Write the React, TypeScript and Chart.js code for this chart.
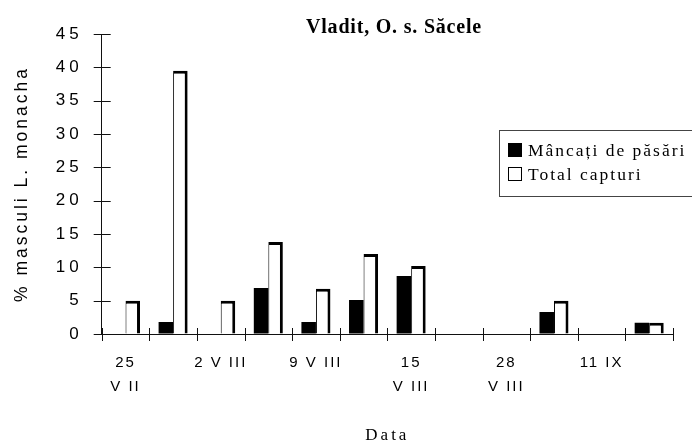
import React, { useEffect, useRef } from 'react';
import { Chart, registerables } from 'chart.js';

Chart.register(...registerables);

// ---- data ----
const categories: (string | string[])[] = [
  ['25', 'V II'], '', '2 V III', '', '9 V III', '', ['15', 'V III'], '', ['28', 'V III'], '', '11 IX', '',
];
const eatenByBirds = [0, 1.8, 0, 6.9, 1.8, 5.1, 8.7, 0, 0, 3.3, 0, 1.7];
const totalCaptures = [5, 39.5, 5, 13.8, 6.8, 12, 10.2, 0, 0, 5, 0, 1.7];
const seriesNames = ['Mâncați de păsări', 'Total capturi'];
const chartTitle = 'Vladit, O. s. Săcele';
const yTitle = '% masculi L. monacha';
const xTitle = 'Data';
const yMin = 0;
const yMax = 45;
const yStep = 5;

const SANS = "'Liberation Sans', Arial, sans-serif";
const SERIF = "'Liberation Serif', 'Times New Roman', serif";

function patchSpacing(scale: any, labelSpacing: string, titleSpacing: string) {
  if (scale.__spacingPatched) return;
  scale.__spacingPatched = true;
  const dl = scale.drawLabels.bind(scale);
  const dt = scale.drawTitle.bind(scale);
  scale.drawLabels = (a: any) => {
    const ctx = scale.ctx;
    ctx.save();
    ctx.letterSpacing = labelSpacing;
    dl(a);
    ctx.restore();
  };
  scale.drawTitle = (a: any) => {
    const ctx = scale.ctx;
    ctx.save();
    ctx.letterSpacing = titleSpacing;
    dt(a);
    ctx.restore();
  };
}

const crossTicks = {
  id: 'crossTicks',
  afterDraw(chart: any) {
    const { ctx, scales, chartArea } = chart;
    const x = scales.x;
    const y = scales.y;
    ctx.save();
    ctx.strokeStyle = '#111';
    ctx.lineWidth = 1;
    ctx.beginPath();
    for (let v = yMin; v <= yMax; v += yStep) {
      const py = Math.round(y.getPixelForValue(v)) + 0.5;
      ctx.moveTo(chartArea.left - 8, py);
      ctx.lineTo(chartArea.left + 9, py);
    }
    const n = categories.length;
    const step = x.getPixelForValue(1) - x.getPixelForValue(0);
    for (let i = 0; i <= n; i++) {
      const px = Math.round(x.getPixelForValue(0) - step / 2 + i * step) + 0.5;
      ctx.moveTo(px, chartArea.bottom - 6);
      ctx.lineTo(px, chartArea.bottom + 7);
    }
    ctx.stroke();
    ctx.restore();
  },
};

const titleLegend = {
  id: 'titleLegend',
  afterDraw(chart: any) {
    const { ctx } = chart;
    ctx.save();
    ctx.letterSpacing = '0.8px';
    ctx.fillStyle = '#000';
    ctx.font = `bold 20px ${SERIF}`;
    ctx.textAlign = 'center';
    ctx.textBaseline = 'middle';
    ctx.fillText(chartTitle, 394, 28);

    ctx.letterSpacing = '2px';
    const bx = 499.5, by = 130.5, bw = 200, bh = 66;
    ctx.fillStyle = '#fff';
    ctx.fillRect(bx, by, bw, bh);
    ctx.strokeStyle = '#444';
    ctx.lineWidth = 1;
    ctx.strokeRect(bx, by, bw, bh);
    const ds = chart.data.datasets;
    ctx.font = `17.5px ${SERIF}`;
    ctx.textAlign = 'left';
    ds.forEach((d: any, i: number) => {
      const cy = 150 + i * 24;
      ctx.fillStyle = d.backgroundColor;
      ctx.fillRect(508, cy - 7, 14, 14);
      ctx.strokeStyle = '#000';
      ctx.lineWidth = 1;
      ctx.strokeRect(508.5, cy - 6.5, 13, 13);
      ctx.fillStyle = '#000';
      ctx.fillText(d.label, 528, cy + 1);
    });
    ctx.restore();
  },
};

export default function App() {
  const ref = useRef<HTMLCanvasElement>(null);

  useEffect(() => {
    document.body.style.margin = '0';
    const canvas = ref.current;
    if (!canvas) return;
    const chart = new Chart(canvas, {
      type: 'bar',
      data: {
        labels: categories as any,
        datasets: [
          {
            label: seriesNames[0],
            data: eatenByBirds,
            backgroundColor: '#000',
            borderWidth: 0,
          },
          {
            label: seriesNames[1],
            data: totalCaptures,
            backgroundColor: '#fff',
            borderColor: '#000',
            borderWidth: { top: 3, right: 3, left: 1, bottom: 0 } as any,
            borderSkipped: 'start',
          },
        ],
      },
      options: {
        responsive: false,
        animation: false,
        devicePixelRatio: 1,
        layout: { padding: { top: 34, right: 19, left: 0, bottom: 0 } },
        datasets: {
          bar: { categoryPercentage: 0.61, barPercentage: 1.0 },
        },
        plugins: {
          legend: { display: false },
          title: { display: false },
          tooltip: { enabled: false },
        },
        scales: {
          x: {
            type: 'category',
            grid: { drawOnChartArea: false, drawTicks: false, offset: true },
            border: { display: true, color: '#111', width: 1 },
            ticks: {
              autoSkip: false,
              maxRotation: 0,
              minRotation: 0,
              padding: 17,
              color: '#000',
              font: { family: SANS, size: 15, lineHeight: 1.6 },
            },
            title: {
              display: true,
              text: xTitle,
              color: '#000',
              font: { family: SERIF, size: 17 },
              padding: { top: 1, bottom: 1 },
            },
            afterFit(scale: any) {
              scale.height = 113;
              patchSpacing(scale, '2px', '3px');
            },
          },
          y: {
            min: yMin,
            max: yMax,
            grid: { drawOnChartArea: false, drawTicks: false },
            border: { display: true, color: '#111', width: 1 },
            ticks: {
              stepSize: yStep,
              padding: 19,
              color: '#000',
              font: { family: SANS, size: 17 },
            },
            title: {
              display: true,
              text: yTitle,
              color: '#000',
              font: { family: SANS, size: 17.5 },
              padding: { top: 12, bottom: 0 },
            },
            afterFit(scale: any) {
              scale.width = 101.7;
              patchSpacing(scale, '4px', '3px');
            },
          },
        },
      },
      plugins: [crossTicks, titleLegend],
    });
    return () => chart.destroy();
  }, []);

  return (
    <div style={{ width: 692, height: 447, position: 'relative', background: '#fff' }}>
      <canvas ref={ref} width={692} height={447} />
    </div>
  );
}
